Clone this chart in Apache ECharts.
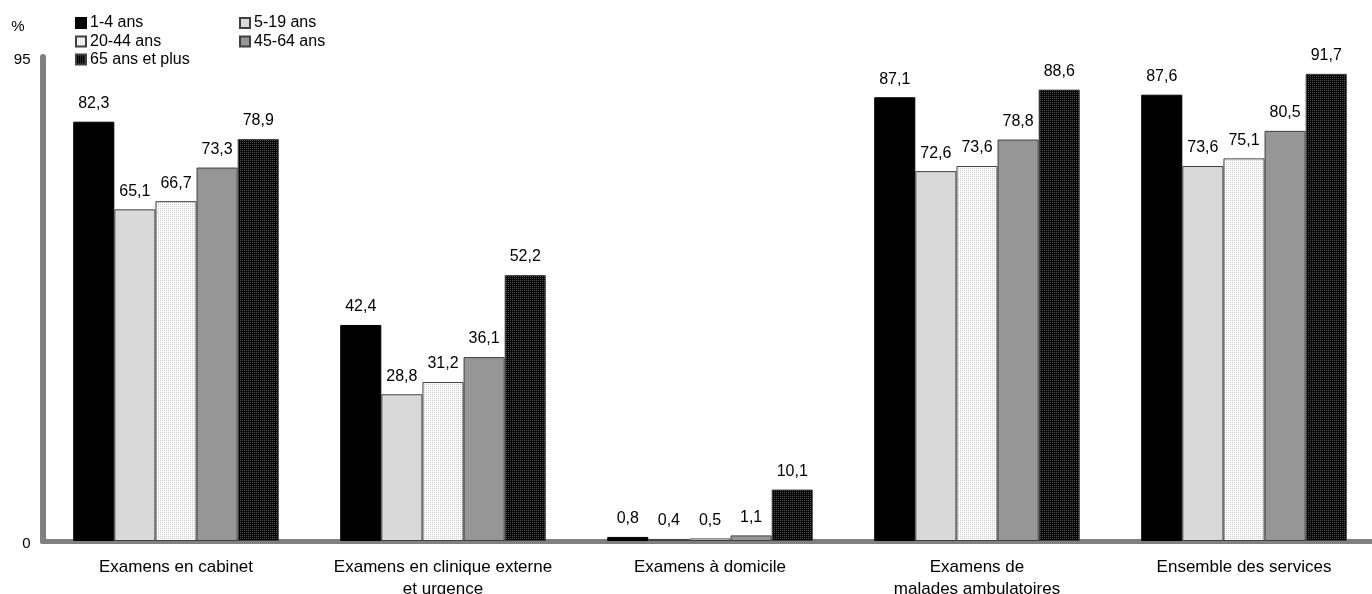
<!DOCTYPE html>
<html><head><meta charset="utf-8">
<script src="https://cdn.jsdelivr.net/npm/echarts@6/dist/echarts.min.js"></script>
<style>html,body{margin:0;padding:0;background:#fff;overflow:hidden}#c{width:1378px;height:594px}</style>
</head><body><div id="c"></div>
<script>
const categories = ['Examens en cabinet', 'Examens en clinique externe\net urgence', 'Examens à domicile', 'Examens de\nmalades ambulatoires', 'Ensemble des services'];
const seriesNames = ['1-4 ans', '5-19 ans', '20-44 ans', '45-64 ans', '65 ans et plus'];
const s1_4 = [82.3, 42.4, 0.8, 87.1, 87.6];
const s5_19 = [65.1, 28.8, 0.4, 72.6, 73.6];
const s20_44 = [66.7, 31.2, 0.5, 73.6, 75.1];
const s45_64 = [73.3, 36.1, 1.1, 78.8, 80.5];
const s65 = [78.9, 52.2, 10.1, 88.6, 91.7];
const yTicks = [0, 95];

function pattern(bg, fg) {
  const c = document.createElement('canvas');
  c.width = 2; c.height = 2;
  const g = c.getContext('2d');
  g.fillStyle = bg; g.fillRect(0, 0, 2, 2);
  g.fillStyle = fg; g.fillRect(0, 0, 1, 1);
  return { image: c, repeat: 'repeat' };
}
const FONT = 'Liberation Sans, Arial, sans-serif';
const fills = ['#000000', '#d9d9d9', pattern('#ffffff', '#c8c8c8'), '#969696', pattern('#000000', '#555555')];
const borders = ['#000000', '#404040', '#404040', '#404040', '#404040'];
const data = [s1_4, s5_19, s20_44, s45_64, s65];

const chart = echarts.init(document.getElementById('c'), null, { renderer: 'canvas' });
const legendPos = [[75, 15], [239, 15], [75, 33.5], [239, 33.5], [75, 51.5]];
const option = {
  animation: false,
  textStyle: { fontFamily: FONT },
  legend: seriesNames.map((n, i) => ({
    data: [n], left: legendPos[i][0], top: legendPos[i][1],
    icon: 'rect', itemWidth: 10, itemHeight: 10, itemGap: 0,
    textStyle: { fontSize: 16, color: '#000', fontFamily: FONT, padding: [0, 0, 0, -1] },
    padding: 0
  })),
  grid: { left: 42.5, top: 57, right: 0.5, bottom: 53, containLabel: false, outerBoundsMode: 'none' },
  xAxis: {
    type: 'category', data: categories,
    axisLine: { lineStyle: { color: '#808080', width: 5, cap: 'round' } },
    axisTick: { show: false },
    axisLabel: { fontSize: 17, color: '#000', fontFamily: FONT, margin: 15, lineHeight: 22, interval: 0 }
  },
  yAxis: {
    type: 'value', min: yTicks[0], max: yTicks[1], interval: 95,
    name: '%', nameLocation: 'end', nameGap: 23,
    nameTextStyle: { fontSize: 15, color: '#000', fontFamily: FONT, align: 'right', padding: [0, 18, 0, 0] },
    axisLine: { show: true, lineStyle: { color: '#808080', width: 6, cap: 'round' } },
    axisTick: { show: false },
    splitLine: { show: false },
    axisLabel: { fontSize: 15, color: '#000', fontFamily: FONT, margin: 12, verticalAlign: 'top', padding: [-5, 0, 0, 0] }
  },
  series: seriesNames.map((n, i) => ({
    name: n, type: 'bar', data: data[i],
    barGap: '0%', barCategoryGap: '23%',
    itemStyle: { color: fills[i], borderColor: borders[i], borderWidth: 1 },
    label: {
      show: true, position: 'top', distance: 10, fontSize: 16, color: '#000', fontFamily: FONT,
      formatter: p => p.value.toFixed(1).replace('.', ',')
    }
  }))
};
chart.setOption(option);
</script>
</body></html>
